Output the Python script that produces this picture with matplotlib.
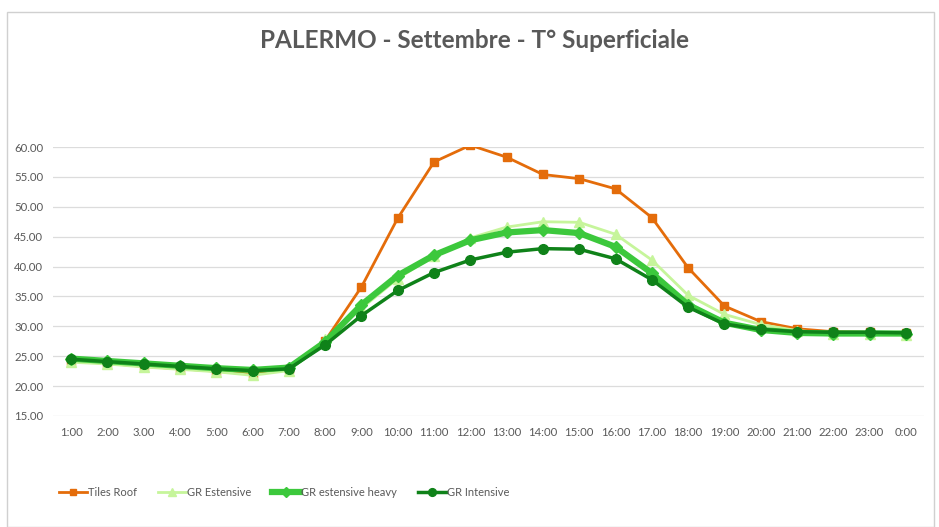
import matplotlib
matplotlib.use("Agg")
import matplotlib.pyplot as plt
from matplotlib.patches import Rectangle

hours = ["1:00", "2:00", "3.00", "4:00", "5:00", "6:00", "7:00", "8:00", "9:00",
         "10:00", "11:00", "12:00", "13:00", "14:00", "15:00", "16:00", "17.00",
         "18:00", "19:00", "20:00", "21:00", "22:00", "23:00", "0:00"]

tiles_roof = [24.2, 23.8, 23.3, 22.9, 22.5, 22.0, 22.8, 27.6, 36.6, 48.1, 57.5, 60.3,
              58.3, 55.4, 54.7, 53.0, 48.2, 39.8, 33.4, 30.8, 29.6, 29.1, 29.0, 28.9]
gr_estensive = [24.0, 23.7, 23.2, 22.8, 22.4, 21.8, 22.6, 27.8, 33.0, 38.0, 41.8, 44.8,
                46.6, 47.5, 47.4, 45.4, 41.1, 35.2, 32.0, 30.3, 29.3, 28.8, 28.7, 28.6]
gr_estensive_heavy = [24.6, 24.2, 23.8, 23.4, 23.0, 22.7, 23.1, 27.4, 33.6, 38.5, 41.9, 44.4,
                      45.7, 46.1, 45.6, 43.3, 38.9, 33.6, 30.6, 29.4, 28.9, 28.8, 28.8, 28.8]
gr_intensive = [24.5, 24.1, 23.7, 23.3, 22.9, 22.6, 22.9, 26.9, 31.8, 36.0, 39.0, 41.1,
                42.4, 43.0, 42.9, 41.3, 37.8, 33.2, 30.4, 29.5, 29.1, 29.0, 29.0, 28.9]

plt.rcParams['font.family'] = ['Lato', 'DejaVu Sans']

fig = plt.figure(figsize=(9.39, 5.27), dpi=100)
fig.patches.append(Rectangle((7 / 939, 0), 1 - 12 / 939, 1 - 12 / 527, transform=fig.transFigure,
                             fill=False, edgecolor="#D0D0D0", linewidth=1.0))

ax = fig.add_axes([53 / 939, 1 - 416 / 527, (924 - 53) / 939, (416 - 147) / 527])
x = list(range(len(hours)))

ax.plot(x, tiles_roof, color="#E46C0A", lw=2.0, marker="s", ms=6, label="Tiles Roof", zorder=3)
ax.plot(x, gr_estensive, color="#C6F59B", lw=2.0, marker="^", ms=7, label="GR Estensive", zorder=4)
ax.plot(x, gr_estensive_heavy, color="#3CC83C", lw=4.5, marker="D", ms=6, label="GR estensive heavy", zorder=5)
ax.plot(x, gr_intensive, color="#0F8219", lw=2.5, marker="o", ms=7, label="GR Intensive", zorder=6)

ax.set_xlim(-0.5, len(hours) - 0.5)
ax.set_ylim(15, 60)
yt = [15, 20, 25, 30, 35, 40, 45, 50, 55, 60]
ax.set_yticks(yt)
ax.set_yticklabels([f"{v:.2f}" for v in yt])
ax.set_xticks(x)
ax.set_xticklabels(hours)
ax.grid(axis="y", color="#DCDCDC", lw=0.9)
ax.set_axisbelow(True)
for s in ax.spines.values():
    s.set_visible(False)
ax.tick_params(length=0, labelsize=8.2, colors="#595959")
ax.tick_params(axis="x", pad=8)
ax.tick_params(axis="y", pad=7)

fig.text(475 / 939, 1 - 40 / 527, "PALERMO - Settembre - T° Superficiale", ha="center", va="center",
         fontsize=17.5, fontweight="bold", color="#595959")

leg = fig.legend(loc="center", bbox_to_anchor=(284 / 939, 1 - 492 / 527), ncol=4, frameon=False,
                 fontsize=8, handlelength=2.5, columnspacing=1.9, handletextpad=0.1, markerscale=0.8)
for t in leg.get_texts():
    t.set_color("#595959")

fig.savefig("out.png", dpi=100, facecolor="white")
